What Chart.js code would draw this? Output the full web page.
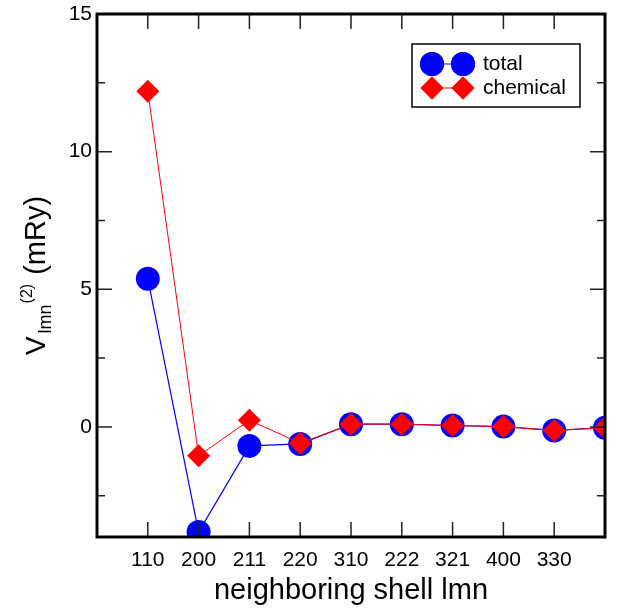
<!DOCTYPE html>
<html>
<head>
<meta charset="utf-8">
<script src="https://cdn.jsdelivr.net/npm/chart.js@4"></script>
<style>
    html, body { margin: 0; padding: 0; background: #fff; }
    canvas { display: block; }
</style>
</head>
<body>
<canvas id="chart" width="617" height="610"></canvas>
<script>
// Data
const shellLabels = ['110', '200', '211', '220', '310', '222', '321', '400', '330'];
const shellIndex = [1, 2, 3, 4, 5, 6, 7, 8, 9, 10];
const totalValues = [5.38, -3.82, -0.69, -0.62, 0.10, 0.10, 0.05, 0.01, -0.13, -0.03];
const chemicalValues = [12.19, -1.05, 0.24, -0.59, 0.10, 0.10, 0.05, 0.01, -0.13, -0.03];
const yMajorTicks = [0, 5, 10, 15];
const yMinorTicks = [-2.5, 2.5, 7.5, 12.5];

const FONT = "'Liberation Sans', Arial, Helvetica, sans-serif";
const BLUE = '#0000ff';
const RED = '#ff0000';

// Inward tick marks + frame
const framePlugin = {
    id: 'frame',
    afterDatasetsDraw(chart) {
        const { ctx, chartArea: a, scales: { x, y } } = chart;
        ctx.save();
        ctx.strokeStyle = '#222';
        ctx.lineWidth = 1.5;
        ctx.beginPath();
        shellLabels.forEach((_, i) => {
            const px = x.getPixelForValue(shellIndex[i]);
            ctx.moveTo(px, a.bottom); ctx.lineTo(px, a.bottom - 15);
            ctx.moveTo(px, a.top); ctx.lineTo(px, a.top + 15);
        });
        yMajorTicks.forEach(v => {
            const py = y.getPixelForValue(v);
            ctx.moveTo(a.left, py); ctx.lineTo(a.left + 15, py);
            ctx.moveTo(a.right, py); ctx.lineTo(a.right - 15, py);
        });
        yMinorTicks.forEach(v => {
            const py = y.getPixelForValue(v);
            ctx.moveTo(a.left, py); ctx.lineTo(a.left + 8, py);
            ctx.moveTo(a.right, py); ctx.lineTo(a.right - 8, py);
        });
        ctx.stroke();

        ctx.strokeStyle = '#000';
        ctx.lineWidth = 3;
        ctx.strokeRect(a.left, a.top, a.right - a.left, a.bottom - a.top);
        ctx.restore();
    }
};

// Y title with sub/superscript, and the boxed legend
const annotatePlugin = {
    id: 'annotate',
    afterDraw(chart) {
        const { ctx, chartArea: a } = chart;
        ctx.save();

        // y axis title
        const parts = [
            { text: 'V', size: 28, dy: 0, gap: 3 },
            { text: 'lmn', size: 18, dy: 6, gap: 1 },
            { text: '(2)', size: 16, dy: -13, gap: 9 },
            { text: '(mRy)', size: 29, dy: 0, gap: 0 }
        ];
        let total = 0;
        parts.forEach(p => {
            ctx.font = p.size + 'px ' + FONT;
            p.w = ctx.measureText(p.text).width;
            total += p.w + p.gap;
        });
        total -= parts[parts.length - 1].gap;
        const cy = (a.top + a.bottom) / 2;
        ctx.translate(45, cy);
        ctx.rotate(-Math.PI / 2);
        ctx.fillStyle = '#000';
        ctx.textBaseline = 'alphabetic';
        let tx = -total / 2;
        parts.forEach(p => {
            ctx.font = p.size + 'px ' + FONT;
            ctx.fillText(p.text, tx, p.dy);
            tx += p.w + p.gap;
        });
        ctx.setTransform(1, 0, 0, 1, 0, 0);

        // legend box
        ctx.strokeStyle = '#000';
        ctx.lineWidth = 1.5;
        ctx.strokeRect(412, 44, 168, 63);
        const rows = [
            { label: 'total', color: BLUE, style: 'circle', r: 12, y: 64 },
            { label: 'chemical', color: RED, style: 'rectRot', r: 11.5, y: 88 }
        ];
        rows.forEach(row => {
            ctx.strokeStyle = row.color;
            ctx.lineWidth = 1;
            ctx.beginPath();
            ctx.moveTo(432, row.y); ctx.lineTo(463, row.y);
            ctx.stroke();
            ctx.fillStyle = row.color;
            [432, 463].forEach(px => {
                Chart.helpers.drawPoint(ctx, {
                    pointStyle: row.style, radius: row.r, rotation: 0, borderWidth: 0
                }, px, row.y);
                ctx.fill();
            });
            ctx.fillStyle = '#000';
            ctx.font = '21px ' + FONT;
            ctx.textBaseline = 'middle';
            ctx.fillText(row.label, 483, row.y);
        });
        ctx.restore();
    }
};

const toPoints = values => shellIndex.map((x, i) => ({ x, y: values[i] }));

new Chart(document.getElementById('chart'), {
    type: 'line',
    data: {
        datasets: [
            {
                label: 'chemical',
                data: toPoints(chemicalValues),
                borderColor: RED,
                borderWidth: 1,
                backgroundColor: RED,
                pointStyle: 'rectRot',
                pointRadius: 11.5,
                pointHoverRadius: 11.5,
                pointBorderWidth: 0,
                pointBackgroundColor: RED,
                clip: 0
            },
            {
                label: 'total',
                data: toPoints(totalValues),
                borderColor: BLUE,
                borderWidth: 1.2,
                backgroundColor: BLUE,
                pointStyle: 'circle',
                pointRadius: 12,
                pointHoverRadius: 12,
                pointBorderWidth: 0,
                pointBackgroundColor: BLUE,
                clip: 0
            }
        ]
    },
    options: {
        responsive: false,
        animation: false,
        devicePixelRatio: 1,
        layout: { padding: { top: 14, right: 9, left: 0, bottom: 0 } },
        plugins: {
            legend: { display: false },
            tooltip: { enabled: false }
        },
        scales: {
            x: {
                type: 'linear',
                min: 0,
                max: 10,
                grid: { display: false },
                border: { display: false },
                afterBuildTicks: s => { s.ticks = shellLabels.map((_, i) => ({ value: shellIndex[i] })); },
                afterFit: s => { s.height = 73; },
                ticks: {
                    autoSkip: false,
                    maxRotation: 0,
                    color: '#000',
                    padding: 3,
                    font: { family: FONT, size: 21 },
                    callback: v => shellLabels[shellIndex.indexOf(v)]
                },
                title: {
                    display: true,
                    text: 'neighboring shell lmn',
                    color: '#000',
                    font: { family: FONT, size: 29 },
                    padding: { top: 0, bottom: 2 }
                }
            },
            y: {
                min: -4,
                max: 15,
                grid: { display: false },
                border: { display: false },
                afterBuildTicks: s => { s.ticks = yMajorTicks.map(v => ({ value: v })); },
                afterFit: s => { s.width = 97; },
                ticks: {
                    color: '#000',
                    padding: -3,
                    font: { family: FONT, size: 21 }
                }
            }
        }
    },
    plugins: [framePlugin, annotatePlugin]
});
</script>
</body>
</html>
